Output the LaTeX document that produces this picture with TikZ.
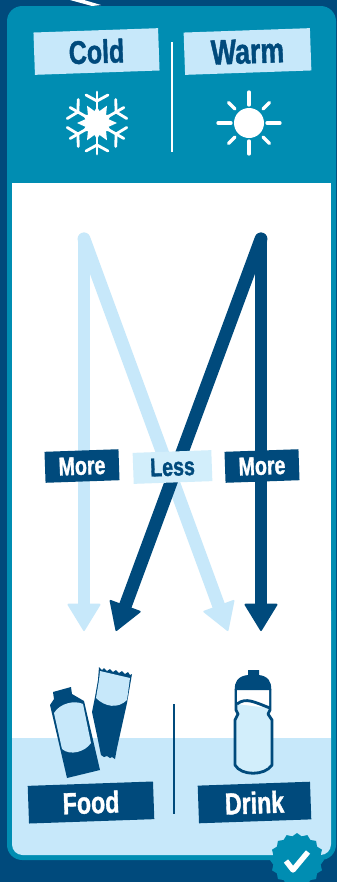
\documentclass[tikz,border=0pt]{standalone}
\usepackage{fontspec}
\setmainfont{Liberation Sans}[FakeStretch=0.76,BoldFeatures={FakeBold=1.2}]
\usetikzlibrary{arrows.meta,shapes.geometric}
\definecolor{navy}{HTML}{004A7C}
\definecolor{teal}{HTML}{008DB2}
\definecolor{pale}{HTML}{C7E8FA}
\definecolor{paler}{HTML}{D2EEFB}

\begin{document}
\begin{tikzpicture}[x=0.03cm,y=-0.03cm,
        bigtag/.style={fill=pale,text=navy,inner sep=0pt,rotate=2,font=\bfseries\fontsize{28}{28}\selectfont},
        smalltag/.style={fill=navy,text=white,inner sep=0pt,rotate=2,minimum width=2.22cm,minimum height=0.93cm,font=\bfseries\fontsize{22}{22}\selectfont},
        bottomtag/.style={fill=navy,text=white,inner sep=0pt,rotate=2,minimum height=1.13cm,font=\bfseries\fontsize{26}{26}\selectfont},
        lightarrow/.style={pale,line width=11pt,line cap=round,-{Triangle[length=24pt,width=29pt,line width=1.5pt,round]}},
        darkarrow/.style={navy,line width=11pt,line cap=round,-{Triangle[length=24pt,width=29pt,line width=1.5pt,round]}},
        ray/.style={white,line width=2.8pt,line cap=round},
        divider/.style={line width=1pt}]
    \useasboundingbox (0,0) rectangle (337,882);
    \clip (0,0) rectangle (337,882);

    % Background
    \fill[navy] (0,0) rectangle (337,882);
    \fill[white] (70,0) -- (84,0) -- (101,5) -- (92,6) -- cycle;
    \fill[teal,rounded corners=13pt] (7,6) rectangle (336,860);
    \fill[pale,rounded corners=9pt] (12,600) rectangle (331,855);
    \fill[white] (12,183) rectangle (331,738);

    % Top row
    \node[bigtag,minimum width=3.74cm,minimum height=1.27cm] (cold) at (96.5,51.5) {Cold};
    \node[bigtag,minimum width=3.79cm,minimum height=1.27cm,font=\bfseries\fontsize{30}{30}\selectfont] (warm) at (247.5,51.5) {Warm};
    \coordinate (topsplit1) at (172,42);
    \coordinate (topsplit2) at (172,152);
    \draw[divider,white] (topsplit1) -- (topsplit2);

    % Snowflake
    \foreach \a in {0,60,...,300} {
        \begin{scope}[shift={(97,123)},rotate=\a+30]
            \draw[ray,line width=2.4pt] (0,0) -- (31,0);
            \draw[ray,line width=2.4pt] (28,-11) -- (22,0) -- (28,11);
            \fill[white] (0,-10) -- (16,0) -- (0,10) -- cycle;
            \fill[white,rotate=30] (0,-9) -- (20,0) -- (0,9) -- cycle;
        \end{scope}
    }

    % Sun
    \fill[white] (249,123) circle (15);
    \begin{scope}[shift={(249,123)}]
        \foreach \a in {0,90,180,270} {
            \draw[ray] (\a:18) -- (\a:31);
        }
        \foreach \a in {45,135,225,315} {
            \draw[ray] (\a:20) -- (\a:29);
        }
    \end{scope}

    % Arrows
    \coordinate (coldtop) at (84,239);
    \coordinate (warmtop) at (261,239);
    \coordinate (foodcold) at (84,631);
    \coordinate (drinkcold) at (228,631);
    \coordinate (foodwarm) at (116,631);
    \coordinate (drinkwarm) at (261,631);
    \draw[lightarrow] (coldtop) -- (foodcold);
    \draw[lightarrow] (coldtop) -- (drinkcold);
    \draw[darkarrow] (warmtop) -- (foodwarm);
    \draw[darkarrow] (warmtop) -- (drinkwarm);

    % Arrow labels
    \node[smalltag] (morefood) at (82,466) {More};
    \node[smalltag,fill=paler,text=navy,minimum width=2.36cm] (less) at (172.5,467) {Less};
    \node[smalltag] (moredrink) at (262,466) {More};

    % Tube
    \fill[navy] (53,692) -- (71,687) -- (72,694) -- (84,701) -- (100,770) -- (67,778) -- (50,705) -- (54,699) -- cycle;
    \fill[pale] (54,713) .. controls (60,703) and (75,700) .. (83,704) -- (91,743) .. controls (85,752) and (70,756) .. (62,749) -- cycle;

    % Bar
    \fill[navy] (99,667) -- (102,670) -- (104,668) -- (107,671) -- (110,669) -- (113,672) -- (116,670) -- (119,673) -- (122,671) -- (125,674) -- (128,672) -- (130,675) -- (132,674)
        -- (127,703) -- (117,748) -- (115,759) -- (112,757) -- (110,758) -- (107,756) -- (104,757) -- (101,755) -- (98,740) -- (92,712) -- (95,697) -- (98,680) -- cycle;
    \fill[pale] (100,671) -- (130,678) -- (127,700) .. controls (118,709) and (105,707) .. (96,698) -- (99,680) -- cycle;

    % Bottle
    \draw[navy,line width=2.4pt,fill=paler,line join=round] (236,689) -- (270,689) -- (270,710) -- (268,714) -- (272,720) -- (272,765)
        .. controls (265,776) and (241,776) .. (235,765) -- (235,720) -- (238,714) -- (236,710) -- cycle;
    \fill[white] (237,689) -- (269,689) -- (269,708) -- (237,704) -- cycle;
    \fill[navy] (248,670) -- (259,670) -- (259,675) .. controls (268,676) and (272,682) .. (271,690) -- (235,690) .. controls (234,682) and (238,676) .. (248,675) -- cycle;
    \draw[navy,line width=2.4pt] (237,704) .. controls (246,697) and (254,702) .. (270,708);

    % Bottom row
    \node[bottomtag,minimum width=3.76cm] (food) at (91,802.5) {Food};
    \node[bottomtag,minimum width=3.37cm] (drink) at (254.5,802.5) {Drink};
    \coordinate (bottomsplit1) at (174,704);
    \coordinate (bottomsplit2) at (174,814);
    \draw[divider,navy] (bottomsplit1) -- (bottomsplit2);

    % Badge
    \node[star,star points=16,star point ratio=1.12,fill=teal,minimum size=1.62cm,inner sep=0pt] (badge) at (297,860) {};
    \coordinate (tick1) at (286,861);
    \coordinate (tick2) at (293,870);
    \coordinate (tick3) at (308,852);
    \draw[white,line width=4.6pt,line join=round] (tick1) -- (tick2) -- (tick3);
\end{tikzpicture}
\end{document}
